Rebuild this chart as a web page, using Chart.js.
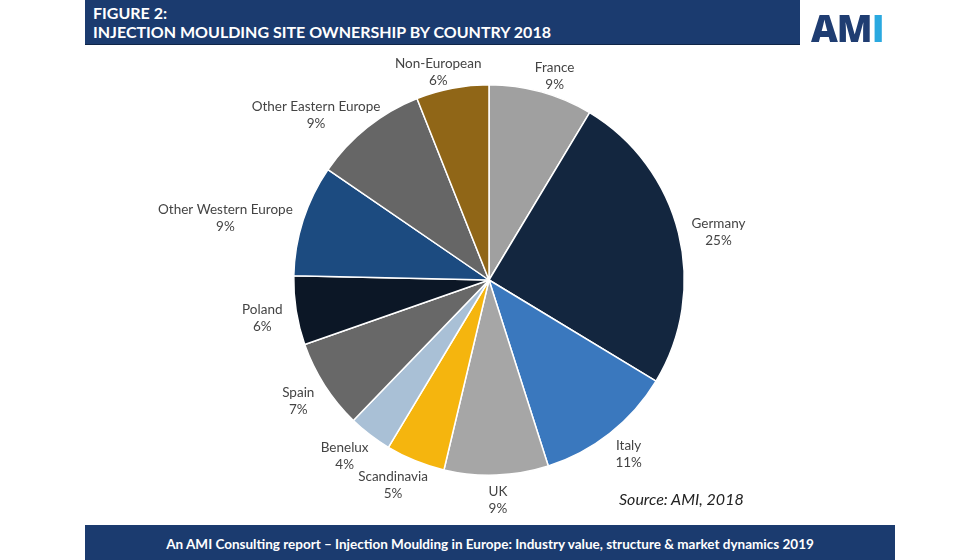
<!DOCTYPE html>
<html>
<head>
<meta charset="utf-8">
<script src="https://cdn.jsdelivr.net/npm/chart.js@4"></script>
<style>
  html, body { margin: 0; padding: 0; background: #fff; }
  #wrap { position: relative; width: 980px; height: 560px; overflow: hidden; }
  #grafico { position: absolute; left: 0; top: 0; }
  .cabecera {
    position: absolute; left: 85px; top: 0; width: 715px; height: 44px;
    background: #1b3b6f; border-bottom: 1px solid #0f2547; color: #fff;
    font-family: Lato, sans-serif; font-weight: bold; font-size: 16px; line-height: 19px;
  }
  .cabecera div { padding-left: 8px; }
  .cabecera .l1 { padding-top: 3px; }
  .logo {
    position: absolute; left: 811px; top: 2px; font-family: "Open Sans", sans-serif;
    font-weight: 800; font-size: 37px; letter-spacing: -1px; color: #1f3d72;
  }
  .logo .i { color: #2aa9e0; }
  .pie {
    position: absolute; left: 85px; top: 525px; width: 810px; height: 35px;
    background: #1b3b6f; color: #fff; text-align: center;
    font-family: Lato, sans-serif; font-weight: bold; font-size: 13.5px; line-height: 38px;
  }
  .fuente {
    position: absolute; left: 619px; top: 489px; font-family: Lato, sans-serif;
    font-style: italic; font-size: 16px; color: #222;
  }
</style>
</head>
<body>
<div id="wrap">
  <canvas id="grafico" width="980" height="560"></canvas>
  <div class="cabecera">
    <div class="l1">FIGURE 2:</div>
    <div>INJECTION MOULDING SITE OWNERSHIP BY COUNTRY 2018</div>
  </div>
  <div class="logo">AM<span class="i">I</span></div>
  <div class="fuente">Source: AMI, 2018</div>
  <div class="pie">An AMI Consulting report – Injection Moulding in Europe: Industry value, structure &amp; market dynamics 2019</div>
</div>
<script>
const paises = ['France', 'Germany', 'Italy', 'UK', 'Scandinavia', 'Benelux', 'Spain',
    'Poland', 'Other Western Europe', 'Other Eastern Europe', 'Non-European'];
const cuotas = [8.6, 25.0, 11.4, 8.6, 4.9, 3.6, 7.4, 5.7, 9.2, 9.4, 6.0];
const colores = ['#a0a0a0', '#13263f', '#3a78be', '#a6a6a6', '#f5b50e', '#a9c0d6', '#686868',
    '#0c1726', '#1c4b80', '#666666', '#906617'];

const totalCuotas = cuotas.reduce((a, b) => a + b, 0);

// Etiquetas fuera de cada porción
const etiquetasFuera = {
    id: 'etiquetasFuera',
    afterDraw(chart) {
        const ctx = chart.ctx;
        const meta = chart.getDatasetMeta(0);
        ctx.save();
        ctx.font = '13.5px Lato, sans-serif';
        ctx.fillStyle = '#444';
        ctx.textAlign = 'center';
        ctx.textBaseline = 'middle';
        meta.data.forEach((arc, i) => {
            const ang = (arc.startAngle + arc.endAngle) / 2;
            const cos = Math.cos(ang), sin = Math.sin(ang);
            const w = ctx.measureText(paises[i]).width;
            const h = 26;
            const d = arc.outerRadius + 8;
            // pequeño empuje horizontal hacia fuera, como en Excel
            const extra = Math.sign(cos) * Math.min(1, Math.abs(cos) * 4) * 6;
            const x = arc.x + d * cos + (w / 2) * cos + extra;
            const y = arc.y + d * sin + (h / 2) * sin + 4;
            const pct = Math.round(cuotas[i] / totalCuotas * 100);
            ctx.fillText(paises[i], x, y - 8);
            ctx.fillText(pct + '%', x, y + 9);
        });
        ctx.restore();
    }
};

new Chart(document.getElementById('grafico'), {
    type: 'pie',
    data: {
        labels: paises,
        datasets: [{
            data: cuotas,
            backgroundColor: colores,
            borderColor: '#ffffff',
            borderWidth: 1.5
        }]
    },
    options: {
        responsive: false,
        animation: false,
        layout: { padding: { top: 84, bottom: 84, left: 0, right: 2 } },
        plugins: {
            legend: { display: false },
            tooltip: { enabled: false }
        }
    },
    plugins: [etiquetasFuera]
});
</script>
</body>
</html>
